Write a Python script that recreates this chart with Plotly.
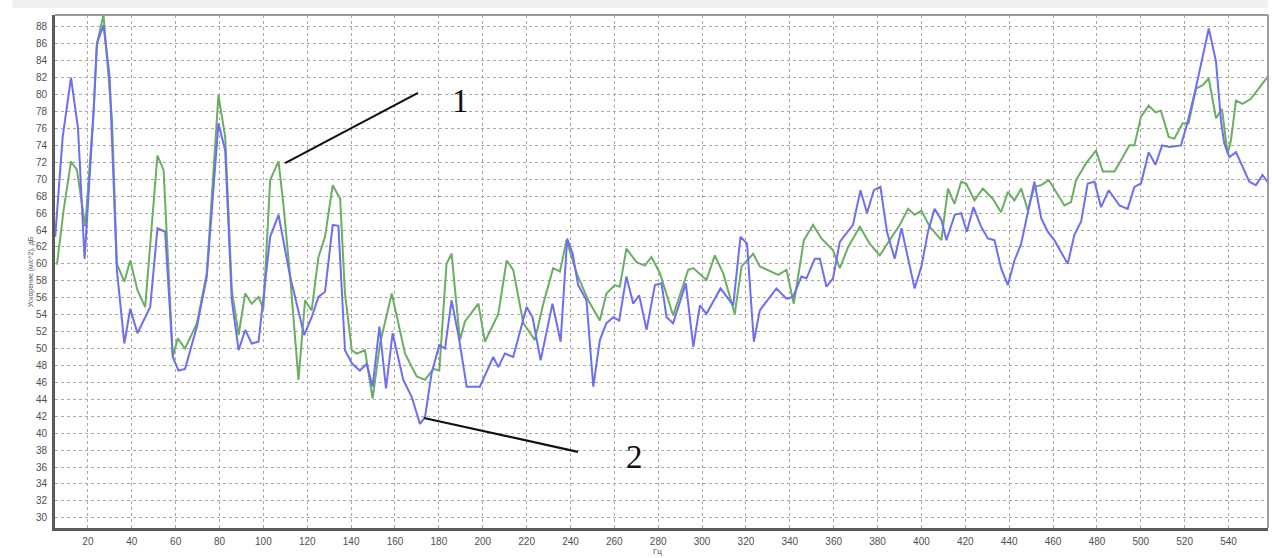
import plotly.graph_objects as go

# Spectrum 1 (green)
freq_1 = [5.9, 8.9, 12.3, 15, 18.8, 22.6, 24.1, 27.1, 31, 33.2, 36.6, 39.3, 42.6, 46.1,
          51.7, 54.5, 58.7, 60.9, 64.3, 69.7, 74.2, 79.5, 82.6, 85.6, 88.7, 91.7, 94.7,
          97.8, 100, 103.1, 106.9, 109.1, 112.2, 116, 119, 122, 125.1, 128.1, 131.6, 135,
          137.2, 140.3, 142.5, 146.3, 149.8, 153.2, 158.5, 164.6, 169.9, 173.7, 177.5,
          180.2, 183.5, 185.8, 189.6, 191.9, 198, 201, 207.1, 210.9, 213.9, 218.5, 223.8,
          227.6, 232.1, 235.2, 238.2, 242.8, 248.1, 253.4, 256.4, 260.2, 262.5, 265.5,
          270.1, 273.9, 276.9, 280.8, 286.8, 293.7, 296, 302, 305.8, 309.6, 314.9, 318,
          323.3, 326.3, 334.7, 338.5, 341.8, 346.4, 350.6, 354.4, 359.7, 362.8, 366.6,
          371.9, 376.4, 381, 385.5, 390.1, 393.9, 396.9, 400, 403.8, 409.1, 412.1, 415.1,
          418.1, 420.4, 424.2, 428, 432.5, 436.3, 439.4, 442.4, 445.5, 448.5, 451.5, 454.6,
          458.1, 461.4, 465.2, 468.2, 470.5, 475.1, 479.6, 482.7, 488, 491.8, 494.8, 497.1,
          500.1, 503.6, 506.7, 509.2, 512.7, 515.3, 519.1, 521.8, 525.2, 528.2, 531, 534.3,
          537, 539.6, 541.1, 543.4, 546.4, 550.2, 557.8]
level_1 = [59.9, 66.3, 72.1, 71.1, 64.4, 78, 86, 89.4, 77, 60, 57.9, 60.4, 56.9, 54.9,
           72.8, 71.1, 49, 51.2, 50, 53, 58.9, 79.9, 75, 56.9, 51.6, 56.5, 55.3,
           56.1, 54.7, 69.9, 72.1, 67.1, 58.5, 46.3, 55.7, 54.5, 60.8, 63.2, 69.3, 67.7,
           56.5, 49.8, 49.4, 49.8, 44.1, 50.6, 56.5, 49.4, 46.7, 46.3, 47.6,
           47.4, 60, 61.2, 51, 53.2, 55.3, 50.8, 54.1, 60.4, 59.3, 53, 51,
           55.3, 59.5, 59.1, 62.8, 58.9, 55.7, 53.3, 56.5, 57.5, 57.3, 61.8,
           60.2, 59.8, 60.8, 58.9, 53.9, 59.3, 59.5, 58.1, 61, 58.9, 54.1, 59.7,
           61.2, 59.7, 58.7, 59.3, 55.3, 62.8, 64.6, 63, 61.6, 59.5, 62,
           64.4, 62.4, 61, 62.8, 64.6, 66.5, 65.8, 66.3, 64.4, 62.8, 68.9, 67.1,
           69.7, 69.5, 67.5, 68.9, 67.7, 66.1, 68.5, 67.5, 68.9, 66.3, 69.1, 69.3,
           69.9, 68.5, 66.9, 67.3, 69.9, 71.9, 73.4, 70.9, 70.9, 72.6, 74, 74,
           77.4, 78.7, 77.9, 78.1, 75, 74.8, 76.6, 76.6, 80.7, 81.1, 81.9, 77.2,
           78.3, 73, 74.6, 79.3, 78.9, 79.5, 82.1]

# Spectrum 2 (blue)
freq_2 = [5.1, 8.5, 12.3, 15.5, 18.5, 22.6, 24.1, 27.1, 29.9, 33.2, 36.6, 39.3, 42.6,
          48.4, 51.7, 55.2, 58.7, 61.3, 64.3, 69.7, 74.2, 79.5, 82.6, 85.6, 88.7, 91.7,
          94.7, 97.8, 103.1, 106.9, 112.2, 118.6, 122, 125.1, 128.1, 131.6, 134.2, 137.2,
          140.5, 144, 147.1, 149.8, 152.9, 155.9, 158.9, 163.8, 167.6, 171.4, 173.7, 176.7,
          180.2, 182.8, 185.8, 188.9, 192.7, 198.7, 204.8, 207.1, 210.1, 213.9, 220, 222.7,
          226.4, 231.8, 235.5, 238.5, 241, 243.5, 247.3, 250.4, 253.4, 256.4, 259.5, 262.2,
          265.5, 268.6, 271.3, 274.7, 278.5, 281.5, 283.8, 286.8, 292.6, 296, 299, 302,
          308.4, 314.2, 317.5, 320.5, 323.6, 326.3, 333.9, 338.5, 341.5, 345.3, 347.6,
          351.4, 353.7, 356.7, 359.7, 362.8, 368.8, 372.2, 375.2, 378.3, 381.3, 384.3,
          387.8, 390.9, 396.9, 400, 403, 406, 409.1, 411.4, 415.2, 418.1, 420.7, 423.7,
          427.2, 430.3, 433.3, 436.3, 439.4, 442.4, 445.5, 448.5, 451.5, 454.6, 457.6,
          460.6, 466.7, 469.7, 472.8, 475.8, 478.9, 481.9, 485.4, 490.3, 494, 497.1, 500.1,
          503.6, 506.7, 509.7, 513, 518.3, 521.4, 525.2, 528.2, 531, 534.3, 536.6, 538.1,
          540.4, 543.4, 546.4, 549.5, 552.5, 555.5, 558.3]
level_2 = [63.2, 75, 82, 76, 60.6, 78, 86, 88.2, 82.1, 59.3, 50.6, 54.7, 51.8,
           54.9, 64.2, 63.8, 49, 47.4, 47.6, 52.6, 58.5, 76.6, 73.4, 55.7, 49.8, 52.2,
           50.6, 50.8, 63.2, 65.8, 58.5, 51.6, 53.7, 56.1, 56.7, 64.6, 64.5, 49.8,
           48.2, 47.4, 48.2, 45.5, 52.6, 45.3, 51.8, 46.3, 44.3, 41.1, 41.9, 47.1,
           50.4, 50, 55.7, 51.6, 45.5, 45.5, 49, 47.8, 49.4, 49, 54.9, 53.7,
           48.6, 55.3, 50.8, 63, 61.2, 57.5, 55.7, 45.5, 51, 53, 53.7, 53.3,
           58.5, 55.3, 56.3, 52.2, 57.5, 57.7, 53.7, 53, 57.7, 50.2, 55.1, 54.1,
           57.1, 55.1, 63.2, 62.4, 50.8, 54.5, 57.1, 55.9, 56.1, 58.5, 58.3,
           60.6, 60.6, 57.3, 58.3, 62.6, 64.6, 68.7, 66, 68.7, 69.1, 63.8,
           60.6, 64.2, 57.1, 59.7, 63.8, 66.5, 65.2, 62.8, 65.8, 66, 63.8, 66.7,
           64.4, 63, 62.8, 59.5, 57.5, 60.4, 62.4, 66.1, 69.7, 65.4, 63.8,
           62.8, 60, 63.4, 65, 69.5, 69.7, 66.7, 68.7, 66.9, 66.5, 69.1, 69.5,
           73.2, 71.7, 74, 73.8, 74, 76.8, 80.9, 84.5, 87.8, 83.9, 76.8, 74.2,
           72.6, 73.2, 71.5, 69.7, 69.3, 70.5, 69.5]

x_ticks = list(range(20, 541, 20))
y_ticks = list(range(30, 89, 2))

fig = go.Figure()
fig.add_trace(go.Scatter(x=freq_1, y=level_1, mode="lines",
                         line=dict(color="#6aae63", width=2), showlegend=False))
fig.add_trace(go.Scatter(x=freq_2, y=level_2, mode="lines",
                         line=dict(color="#6e6ef2", width=2), showlegend=False))

grid = dict(showgrid=True, gridcolor="#a8a8a8", griddash="dot", gridwidth=1,
            zeroline=False, ticks="",
            tickfont=dict(family="Liberation Sans", size=10, color="#505050"))

fig.update_xaxes(range=[5, 558], tickvals=x_ticks, ticklabelstandoff=2,
                 showline=True, linecolor="#5a5a5a", linewidth=3, **grid)
fig.update_yaxes(range=[28.8, 89.4], tickvals=y_ticks, ticklabelstandoff=3,
                 showline=True, linecolor="#5a5a5a", linewidth=3, **grid)

shapes = [
    # top and right frame edges
    dict(type="line", xref="paper", yref="paper", x0=0, x1=1, y0=1, y1=1,
         line=dict(color="#9a9a9a", width=2)),
    dict(type="line", xref="paper", yref="paper", x0=1, x1=1, y0=0, y1=1,
         line=dict(color="#9a9a9a", width=2)),
    # light strip above the frame
    dict(type="rect", xref="paper", yref="paper", x0=-0.035, x1=1.0,
         y0=1.014, y1=1.03, fillcolor="#efefef", line=dict(width=0), layer="below"),
    # pointer lines for the curve labels
    dict(type="line", xref="x", yref="y", x0=109.9, y0=71.9, x1=170.5, y1=80.2,
         line=dict(color="#111111", width=2.2)),
    dict(type="line", xref="x", yref="y", x0=173.2, y0=41.8, x1=243.4, y1=37.8,
         line=dict(color="#111111", width=2.2)),
]

annotations = [
    dict(x=190.0, y=79.2, xref="x", yref="y", text="1", showarrow=False,
         font=dict(family="Liberation Serif", size=33, color="#111111")),
    dict(x=269.4, y=37.2, xref="x", yref="y", text="2", showarrow=False,
         font=dict(family="Liberation Serif", size=33, color="#111111")),
    dict(x=-0.025, y=0.5, xref="paper", yref="paper", text="Ускорение (м/с^2), дБ",
         textangle=-90, showarrow=False,
         font=dict(family="Liberation Sans", size=7, color="#505050")),
    dict(x=279.5, y=-0.046, xref="x", yref="paper", text="Гц", showarrow=False,
         yanchor="middle", font=dict(family="Liberation Sans", size=8, color="#505050")),
]

fig.update_layout(
    width=1272, height=558,
    margin=dict(l=55, r=4, t=15, b=30),
    paper_bgcolor="white", plot_bgcolor="white",
    shapes=shapes, annotations=annotations,
)

fig.write_html("out.html")
